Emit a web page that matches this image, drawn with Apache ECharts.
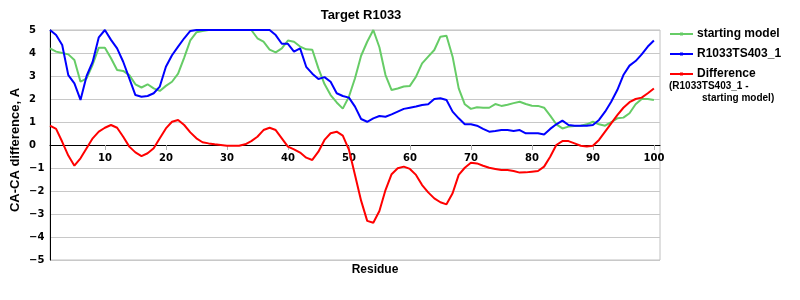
<!DOCTYPE html>
<html>
<head>
<meta charset="utf-8">
<script src="https://cdn.jsdelivr.net/npm/echarts@6/dist/echarts.min.js"></script>
<style>html,body{margin:0;padding:0;background:#fff}#c{width:800px;height:300px}</style>
</head>
<body>
<div id="c"></div>
<script>
// residues 1..100 (axis extends to 101)
var residues = [];
for (var r = 1; r <= 101; r++) residues.push(String(r));

var startingModel = [4.2,4.06,4.0,3.94,3.7,2.75,2.9,3.5,4.23,4.23,
3.77,3.26,3.22,3.04,2.64,2.5,2.64,2.46,2.35,2.57,
2.75,3.1,3.8,4.55,4.9,4.96,5,5,5,5,
5,5,5,5,4.64,4.49,4.15,4.03,4.2,4.54,
4.49,4.28,4.16,4.14,3.33,2.65,2.17,1.85,1.58,2.1,
2.9,3.88,4.49,5.0,4.25,3.04,2.39,2.46,2.54,2.57,
2.97,3.55,3.84,4.13,4.71,4.75,3.84,2.46,1.77,1.57,
1.64,1.62,1.62,1.78,1.7,1.75,1.82,1.88,1.78,1.71,
1.7,1.62,1.28,0.9,0.72,0.8,0.83,0.84,0.9,1.01,
0.9,0.84,0.99,1.16,1.19,1.38,1.77,2.0,2.0,1.96];

var model403 = [5.0,4.78,4.35,3.04,2.68,1.96,3.0,3.62,4.68,5.0,
4.57,4.2,3.62,2.9,2.17,2.1,2.13,2.25,2.54,3.4,
3.9,4.28,4.64,4.96,5,5,5,5,5,5,
5,5,5,5,5,5,5,4.78,4.4,4.4,
4.06,4.2,3.4,3.1,2.87,2.95,2.75,2.25,2.13,2.06,
1.67,1.13,1.01,1.16,1.26,1.23,1.33,1.45,1.57,1.62,
1.67,1.74,1.77,2.0,2.03,1.96,1.45,1.16,0.9,0.9,
0.84,0.7,0.58,0.61,0.65,0.65,0.61,0.65,0.51,0.51,
0.51,0.46,0.7,0.9,1.06,0.87,0.84,0.84,0.84,0.87,
1.09,1.45,1.88,2.39,3.04,3.45,3.65,3.94,4.28,4.54];

var difference = [0.84,0.7,0.14,-0.46,-0.9,-0.58,-0.14,0.29,0.58,0.75,
0.87,0.75,0.36,-0.07,-0.32,-0.48,-0.36,-0.14,0.29,0.72,
1.01,1.09,0.87,0.55,0.29,0.12,0.07,0.03,0.0,-0.03,
-0.03,-0.03,0.03,0.17,0.36,0.65,0.75,0.65,0.29,-0.07,
-0.19,-0.33,-0.55,-0.65,-0.29,0.22,0.51,0.58,0.41,-0.2,
-1.3,-2.42,-3.3,-3.38,-2.87,-1.96,-1.27,-1.01,-0.94,-1.04,
-1.3,-1.74,-2.06,-2.32,-2.49,-2.58,-2.1,-1.3,-0.99,-0.77,
-0.8,-0.9,-0.99,-1.04,-1.09,-1.09,-1.13,-1.2,-1.19,-1.16,
-1.13,-0.94,-0.51,0.0,0.17,0.17,0.07,-0.03,-0.07,-0.03,
0.22,0.58,0.94,1.3,1.62,1.86,2.0,2.06,2.25,2.46];

var seriesNames = ['starting model', 'R1033TS403_1', 'Difference'];
var seriesColors = ['#66cc66', '#0000ff', '#ff0000'];

var chart = echarts.init(document.getElementById('c'), null, {renderer: 'canvas'});

function legendItem(y, i) {
  return [
    {type: 'line', shape: {x1: 670, y1: y, x2: 693, y2: y}, style: {stroke: seriesColors[i], lineWidth: 2}},
    {type: 'rect', shape: {x: 680, y: y - 1.5, width: 3, height: 3}, style: {fill: seriesColors[i]}},
    {type: 'text', x: 697, y: y, style: {text: seriesNames[i], font: 'bold 12px "Liberation Sans", Arial, sans-serif', fill: '#000', verticalAlign: 'middle', align: 'left'}}
  ];
}

var graphics = [].concat(
  legendItem(34, 0), legendItem(54, 1), legendItem(74, 2),
  [
    {type: 'text', x: 669, y: 86, style: {text: '(R1033TS403_1 -', font: 'bold 10px "Liberation Sans", Arial, sans-serif', fill: '#000', verticalAlign: 'middle', align: 'left'}},
    {type: 'text', x: 702, y: 98, style: {text: 'starting model)', font: 'bold 10px "Liberation Sans", Arial, sans-serif', fill: '#000', verticalAlign: 'middle', align: 'left'}},
    {type: 'text', x: 375, y: 270, style: {text: 'Residue', font: 'bold 12px "Liberation Sans", Arial, sans-serif', fill: '#000', verticalAlign: 'middle', align: 'center'}},
    {type: 'text', x: 361, y: 15, style: {text: 'Target R1033', font: 'bold 13px "Liberation Sans", Arial, sans-serif', fill: '#000', verticalAlign: 'middle', align: 'center'}},
    {type: 'text', x: 15, y: 150, rotation: Math.PI / 2, style: {text: 'CA-CA difference, A', font: 'bold 13px "Liberation Sans", Arial, sans-serif', fill: '#000', verticalAlign: 'middle', align: 'center'}}
  ]
);

var option = {
  animation: false,
  backgroundColor: '#ffffff',
  grid: {left: 50, right: 140, top: 30, bottom: 40, containLabel: false, outerBoundsMode: 'none',
         show: true, borderColor: '#c0c0c0', borderWidth: 1, backgroundColor: 'transparent'},
  xAxis: {
    type: 'category',
    data: residues,
    boundaryGap: false,
    position: 'bottom',
    offset: -115,
    axisLine: {onZero: false, lineStyle: {color: '#000', width: 1}},
    axisTick: {show: true, length: 5, lineStyle: {color: '#b0b0b0'},
      interval: function (idx) { return (idx + 1) % 10 === 0; }},
    axisLabel: {show: true, margin: 8, color: '#000',
      fontFamily: '"DejaVu Sans", Verdana, sans-serif', fontWeight: 'bold', fontSize: 10,
      interval: function (idx) { return (idx + 1) % 10 === 0; }},
    splitLine: {show: false}
  },
  yAxis: {
    type: 'value',
    min: -5, max: 5, interval: 1,
    axisLine: {show: true, onZero: false, lineStyle: {color: '#000', width: 1}},
    axisTick: {show: false},
    axisLabel: {color: '#000', align: 'left', margin: 21,
      fontFamily: '"DejaVu Sans", Verdana, sans-serif', fontWeight: 'bold', fontSize: 10,
      formatter: function (v) { return String(v).replace('-', '\u2212'); }},
    splitLine: {show: true, lineStyle: {color: '#c8c8c8', width: 1}}
  },
  series: [
    {name: seriesNames[0], type: 'line', data: startingModel, showSymbol: false, symbol: 'none',
     lineStyle: {color: seriesColors[0], width: 2}, itemStyle: {color: seriesColors[0]}},
    {name: seriesNames[1], type: 'line', data: model403, showSymbol: false, symbol: 'none',
     lineStyle: {color: seriesColors[1], width: 2}, itemStyle: {color: seriesColors[1]}},
    {name: seriesNames[2], type: 'line', data: difference, showSymbol: false, symbol: 'none',
     lineStyle: {color: seriesColors[2], width: 2}, itemStyle: {color: seriesColors[2]}}
  ],
  graphic: graphics
};
chart.setOption(option);
</script>
</body>
</html>
